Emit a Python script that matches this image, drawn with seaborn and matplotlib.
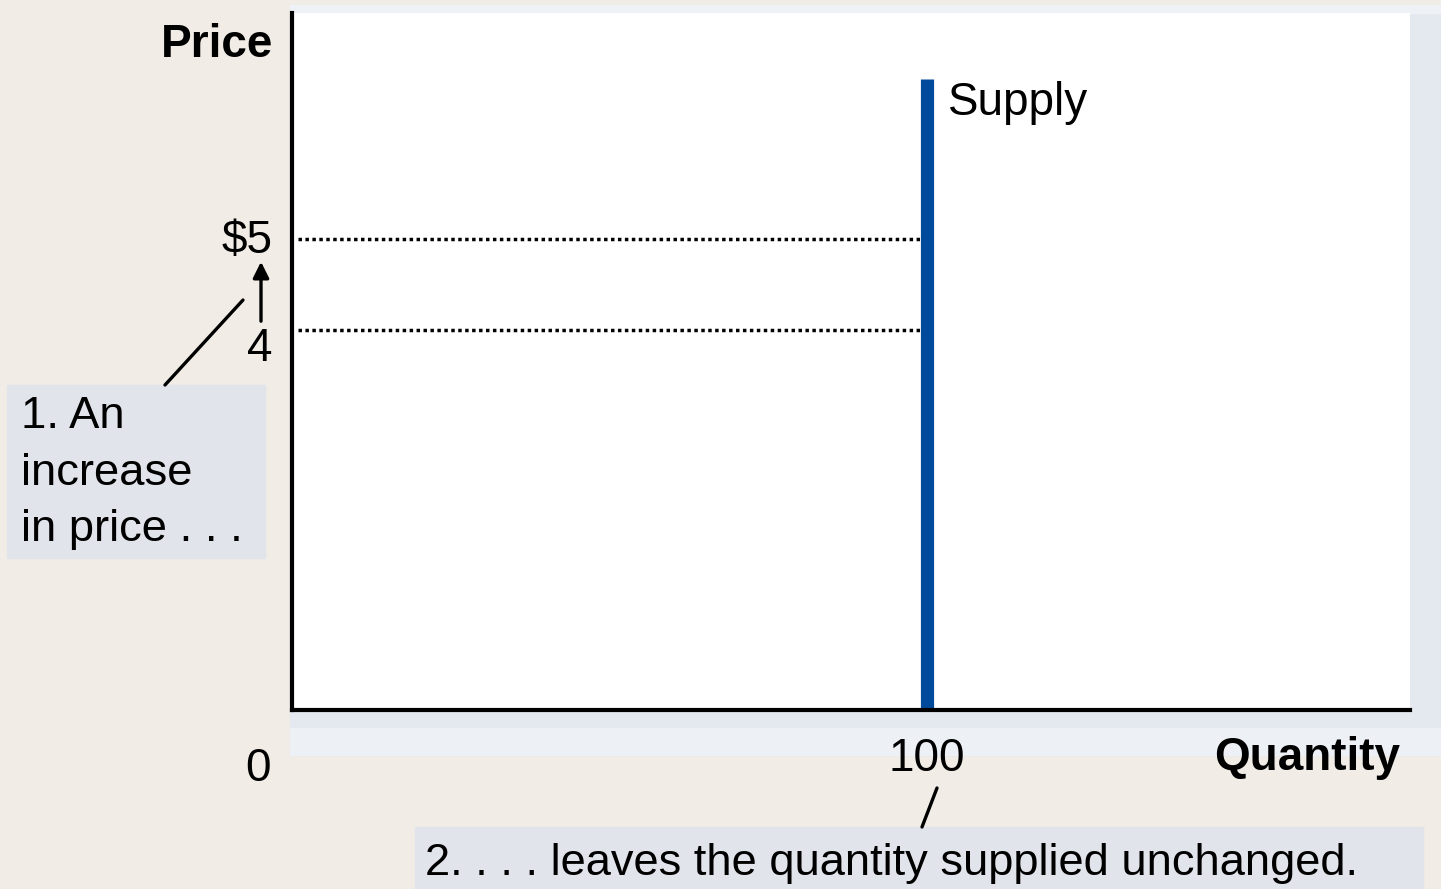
import numpy as np
import pandas as pd
import matplotlib
matplotlib.use('Agg')
import matplotlib.pyplot as plt
from matplotlib.patches import Rectangle, FancyArrowPatch
import seaborn as sns

# chart values
prices = [4, 5]
price_labels = ['4', r'\$5']
supply_qty = [100, 100]
supply_price = [-0.18, 6.75]   # runs from the quantity axis up
qty_label = '100'
note_price = ['1. An', 'increase', 'in price . . .']
note_qty = '2. . . . leaves the quantity supplied unchanged.'

W, H = 1441, 889
sns.set_style('white')
plt.rcParams['font.family'] = ['Liberation Sans', 'DejaVu Sans']
plt.rcParams['text.color'] = 'black'

fig = plt.figure(figsize=(W / 100, H / 100), dpi=100)
fig.patch.set_facecolor('#f1ece5')

def fx(px):
    return px / W

def fy(py):
    return 1 - py / H

# blue-gray panel behind the plot
fig.patches.append(Rectangle((fx(290), fy(755)), fx(1441) - fx(290), fy(5) - fy(755),
                             transform=fig.transFigure, color='#e4e8ef', zorder=-2))
fig.patches.append(Rectangle((fx(290), fy(755)), fx(1441) - fx(290), fy(728) - fy(755),
                             transform=fig.transFigure, color='#edf0f4', zorder=-2))
fig.patches.append(Rectangle((fx(290), fy(13)), fx(1441) - fx(290), fy(5) - fy(13),
                             transform=fig.transFigure, color='#eef1f5', zorder=-2))

ax = fig.add_axes([fx(292), fy(710), fx(1410) - fx(292), fy(13) - fy(710)])
ax.set_zorder(2)
ax.set_facecolor('white')
ax.set_xlim(0, 176)
ax.set_ylim(-0.18, 7.48)
for s in ['top', 'right']:
    ax.spines[s].set_visible(False)
for s in ['left', 'bottom']:
    ax.spines[s].set_color('black')
    ax.spines[s].set_linewidth(3)
ax.set_xticks([])
ax.set_yticks([])

# dotted price lines
for p in prices:
    ax.plot([1, 98.9], [p, p], color='black', lw=2.5, ls=(0, (1, 1)))

# vertical supply curve
df = pd.DataFrame({'q': supply_qty, 'p': supply_price})
sns.lineplot(data=df, x='q', y='p', estimator=None, sort=False, ax=ax,
             color='#004a9c', lw=9.5, solid_capstyle='butt')
ax.set_xlabel('')
ax.set_ylabel('')

fs = 33
ax.text(103.2, 6.36, 'Supply', fontsize=fs, va='baseline', ha='left')

fig.text(fx(273), fy(45), 'Price', fontsize=fs, fontweight='bold', ha='right', va='center')
fig.text(fx(1400), fy(758), 'Quantity', fontsize=fs, fontweight='bold', ha='right', va='center')
fig.text(fx(273), fy(241), price_labels[1], fontsize=fs, ha='right', va='center')
fig.text(fx(273), fy(349), price_labels[0], fontsize=fs, ha='right', va='center')
fig.text(fx(258), fy(769), '0', fontsize=fs, ha='center', va='center')
ax.text(100, -0.18 - 49 * 7.66 / 697, qty_label, fontsize=fs, ha='center', va='center')

# arrow from 4 up to $5
fig.add_artist(FancyArrowPatch(
    (fx(261), fy(324)), (fx(261), fy(259)), transform=fig.transFigure,
    arrowstyle='-|>', mutation_scale=24, lw=2.4, color='black'))

# note boxes
fig.patches.append(Rectangle((fx(7), fy(558)), fx(265) - fx(7), fy(385) - fy(558),
                             transform=fig.transFigure, color='#e1e4ea', zorder=1))
for i, line in enumerate(note_price):
    fig.text(fx(21), fy(417 + 56.5 * i), line, fontsize=32.7, ha='left', va='center')
fig.patches.append(Rectangle((fx(415), fy(889)), fx(1423) - fx(415), fy(827) - fy(889),
                             transform=fig.transFigure, color='#e1e4ea', zorder=1))
fig.text(fx(425), fy(863), note_qty, fontsize=32.6, ha='left', va='center')

# leader lines
fig.add_artist(plt.Line2D([fx(243), fx(165)], [fy(300), fy(385)],
                          transform=fig.transFigure, color='black', lw=2.4))
fig.add_artist(plt.Line2D([fx(937), fx(922)], [fy(788), fy(827)],
                          transform=fig.transFigure, color='black', lw=2.4))

fig.savefig('out.png', dpi=100, facecolor=fig.get_facecolor())
